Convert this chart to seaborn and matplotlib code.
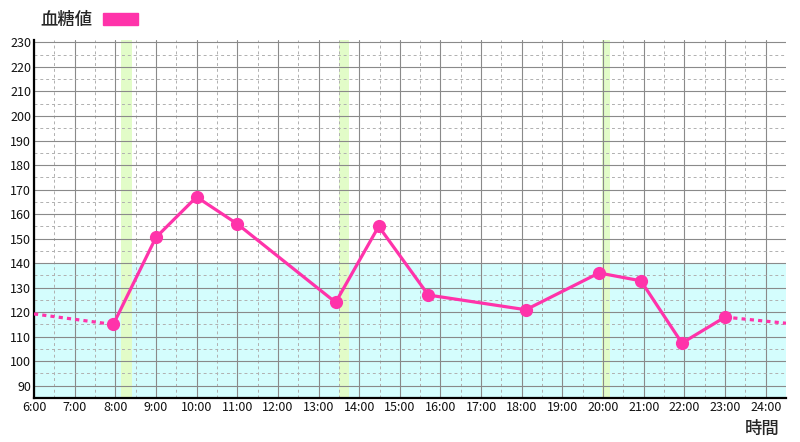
import matplotlib
matplotlib.use("Agg")
import matplotlib.pyplot as plt
from matplotlib.patches import Patch
from matplotlib.ticker import MultipleLocator
import seaborn as sns
import pandas as pd

# data (hour of day, blood sugar)
times = [7.95, 9.0, 10.0, 11.0, 13.42, 14.48, 15.7, 18.1, 19.9, 20.93, 21.94, 23.0]
values = [115, 150.5, 167, 156, 124, 155, 127, 121, 136, 132.8, 107.4, 118]
left_ext_t = [6.0, 7.95]
left_ext_v = [119.3, 115]
right_ext_t = [23.0, 24.5]
right_ext_v = [118, 115.5]
meal_spans = [(8.15, 8.4), (13.5, 13.75), (19.97, 20.16)]
hours = list(range(6, 25))
hour_labels = [f"{h}:00" for h in hours]
yticks = list(range(90, 231, 10))
normal_max = 140

sns.set_theme(style="white")
plt.rcParams['font.family'] = ['Noto Sans CJK JP', 'DejaVu Sans']

pink = "#ff33aa"
fig = plt.figure(figsize=(8, 4.42), dpi=100)
ax = fig.add_axes([0.0425, 0.0995, 0.94, 0.81])

ax.axhspan(80, normal_max, color="#d4fdfd", zorder=0.2, lw=0)
for a, b in meal_spans:
    ax.axvspan(a, b, color="#e2fcc8", zorder=0.3, lw=0)

df = pd.DataFrame({"time": times, "value": values})
sns.lineplot(data=df, x="time", y="value", ax=ax, color=pink, lw=2.3,
             marker="o", markersize=9.5, markeredgewidth=0, zorder=5)
sns.lineplot(x=left_ext_t, y=left_ext_v, ax=ax, color=pink, lw=2.3,
             linestyle=(0, (1.3, 1.3)), zorder=4)
sns.lineplot(x=right_ext_t, y=right_ext_v, ax=ax, color=pink, lw=2.3,
             linestyle=(0, (1.3, 1.3)), zorder=4)

ax.set_xlim(6, 24.5)
ax.set_ylim(85, 231)
ax.set_xticks(hours)
ax.set_xticklabels(hour_labels)
ax.set_yticks(yticks)
ax.xaxis.set_minor_locator(MultipleLocator(0.5))
ax.yaxis.set_minor_locator(MultipleLocator(5))
ax.set_axisbelow(True)
ax.grid(which="major", color="#8a8a8a", lw=0.8)
ax.grid(which="minor", color="#b0b0b0", lw=0.7, linestyle=(0, (3, 3)))
ax.tick_params(axis="both", which="both", length=0, labelsize=9, pad=2, colors="#111111")

for s in ["top", "right"]:
    ax.spines[s].set_visible(False)
for s in ["left", "bottom"]:
    ax.spines[s].set_color("black")
    ax.spines[s].set_linewidth(1.6)

ax.set_xlabel("")
ax.set_ylabel("")
fig.text(0.975, 0.01, "時間", ha="right", va="bottom", fontsize=12.5, fontweight="medium")

fig.legend(handles=[Patch(color=pink)], labels=["血糖値"], loc="center left",
           bbox_to_anchor=(0.051, 0.955), frameon=False, markerfirst=False,
           prop={"size": 12.5, "weight": "medium"}, handlelength=2.0,
           handleheight=0.7, handletextpad=0.6, borderaxespad=0, borderpad=0)

fig.savefig("out.png", dpi=100)
